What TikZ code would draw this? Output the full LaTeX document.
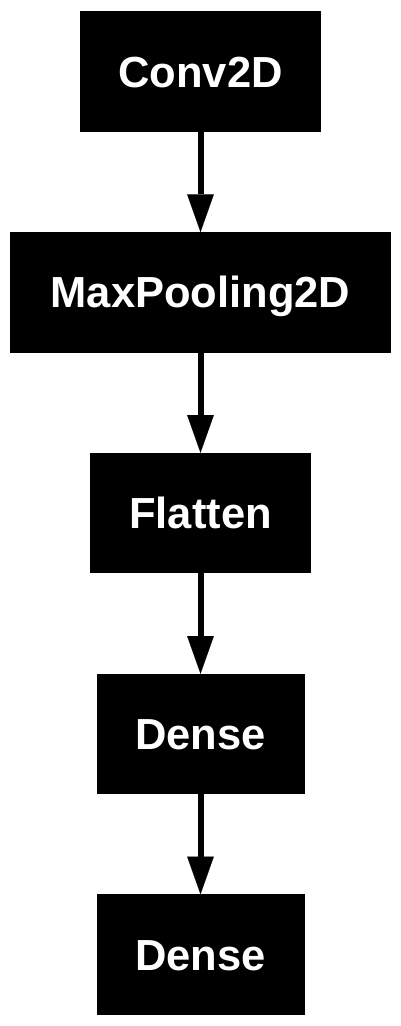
\documentclass[tikz,border=0pt]{standalone}
\usepackage{fontspec}
\setmainfont{Liberation Sans}
\usetikzlibrary{arrows.meta}
\begin{document}
\begin{tikzpicture}[x=1pt,y=-1pt,
  layer/.style={fill=black,text=white,draw=none,inner sep=0pt,outer sep=0pt,
    minimum height=120.5pt,text height=31pt,text depth=0pt,
    font=\fontsize{43.5}{50}\selectfont\bfseries},
  flow/.style={line width=6pt,-{Triangle[width=26.7pt,length=37.7pt,line width=0.1pt]},shorten >=0pt}]
\useasboundingbox (0,0) rectangle (401,1026);
\node[layer,minimum width=241pt] (conv) at (200.5,71.5) {Conv2D};
\node[layer,minimum width=381pt] (pool) at (200.5,292.3) {MaxPooling2D};
\node[layer,minimum width=220.5pt] (flat) at (200.5,513) {Flatten};
\node[layer,minimum width=208pt] (d1) at (200.5,734) {Dense};
\node[layer,minimum width=208pt] (d2) at (200.5,954.5) {Dense};
\draw[flow] (conv.south) -- (pool.north);
\draw[flow] (pool.south) -- (flat.north);
\draw[flow] (flat.south) -- (d1.north);
\draw[flow] (d1.south) -- (d2.north);
\end{tikzpicture}
\end{document}
